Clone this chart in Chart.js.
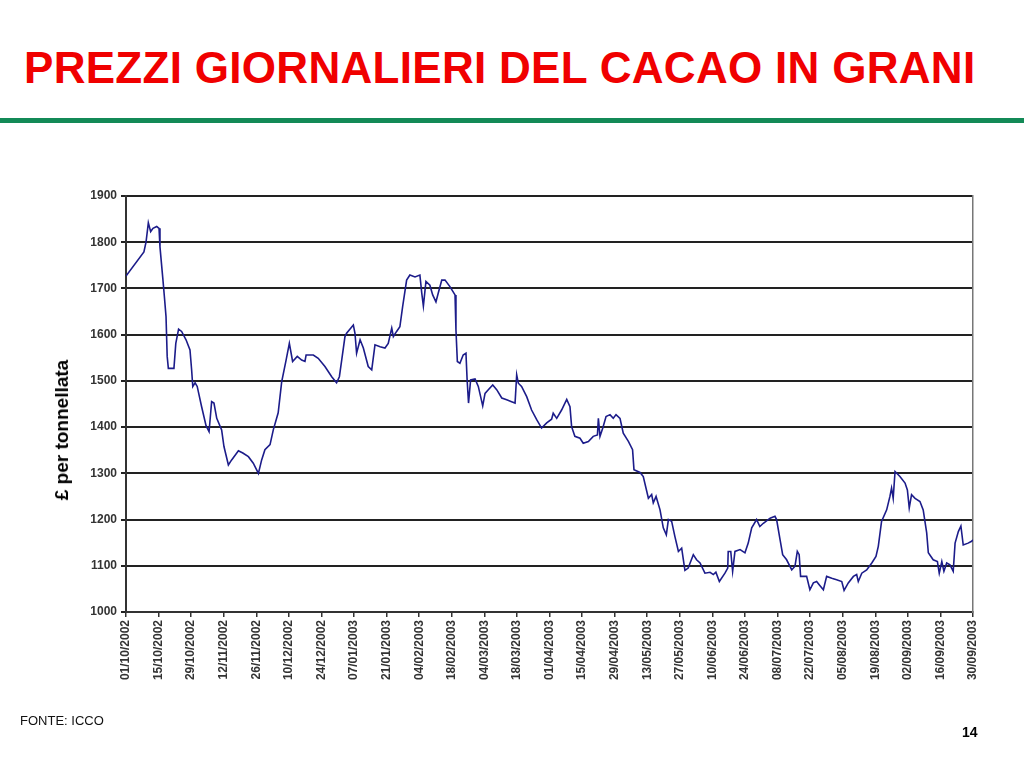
<!DOCTYPE html>
<html>
<head>
<meta charset="utf-8">
<script src="https://cdn.jsdelivr.net/npm/chart.js@4.4.1/dist/chart.umd.min.js"></script>
<style>
  html, body { margin: 0; padding: 0; background: #fff; }
  body { width: 1024px; height: 768px; position: relative; overflow: hidden;
         font-family: "Liberation Sans", Arial, sans-serif; }
  #title { position: absolute; left: 24px; top: 43px; margin: 0; letter-spacing: 0.3px;
           font-size: 44px; font-weight: bold; color: #f00000; white-space: nowrap; line-height: 50px; }
  #rule { position: absolute; left: 0; top: 118px; width: 1024px; height: 5px; background: #138a57; }
  #source { position: absolute; left: 20px; top: 713px; font-size: 13px; color: #111; }
  #page { position: absolute; left: 962px; top: 724px; font-size: 14px; font-weight: bold; color: #000; }
  #ytitle { position: absolute; left: 62px; top: 430px; transform: translate(-50%, -50%) rotate(-90deg);
            font-size: 19px; font-weight: bold; color: #000; white-space: nowrap; }
  #wrap { position: absolute; left: 0; top: 0; width: 1024px; height: 768px; }
</style>
</head>
<body>
<h1 id="title">PREZZI GIORNALIERI DEL CACAO IN GRANI</h1>
<div id="rule"></div>
<div id="wrap"><canvas id="cacao"></canvas></div>
<div id="ytitle">£ per tonnellata</div>
<div id="source">FONTE: ICCO</div>
<div id="page">14</div>

<script>
  /* ── data (day offset from 01/10/2002, £ per tonne) ─────────── */
  var tickLabels = [
    "01/10/2002", "15/10/2002", "29/10/2002", "12/11/2002", "26/11/2002",
    "10/12/2002", "24/12/2002", "07/01/2003", "21/01/2003", "04/02/2003",
    "18/02/2003", "04/03/2003", "18/03/2003", "01/04/2003", "15/04/2003",
    "29/04/2003", "13/05/2003", "27/05/2003", "10/06/2003", "24/06/2003",
    "08/07/2003", "22/07/2003", "05/08/2003", "19/08/2003", "02/09/2003",
    "16/09/2003", "30/09/2003"
  ];

  var days = [
    0, 7.7, 8.6, 9.6, 10.6, 11.6, 13.2, 14.2, 14.6, 15.8, 16.5, 17.2, 17.7, 18.2,
    20.6, 21.4, 22.6, 23.9, 25.8, 27.5, 28.2, 28.7, 29.7, 30.6, 32.5, 34.4, 35.7,
    36.8, 37.8, 39.0, 41.1, 42.1, 44.0, 45.4, 48.3, 50.2, 52.6, 54.7, 56.9, 58.3,
    59.7, 61.9, 63.3, 65.4, 66.9, 68.8, 70.2, 71.6, 73.6, 75.5, 76.9, 77.4, 80.5,
    82.6, 85.5, 88.4, 90.5, 91.7, 92.7, 94.1, 94.8, 97.7, 98.4, 99.1, 100.6, 102.0,
    104.1, 105.6, 107.0, 109.2, 111.3, 112.7, 114.2, 114.9, 116.3, 117.7, 118.9,
    120.6, 122.0, 124.2, 126.3, 127.1, 127.8, 128.9, 130.6, 131.8, 133.2, 134.2,
    135.7, 137.1, 139.2, 141.4, 141.8, 142.4, 143.5, 144.9, 146.1, 146.6, 147.2,
    148.1, 150.0, 151.4, 153.3, 154.3, 155.7, 157.6, 159.3, 161.5, 163.6, 165.7,
    167.2, 167.9, 168.6, 170.0, 172.2, 174.3, 176.5, 178.6, 180.8, 182.9, 183.6,
    185.1, 187.2, 189.4, 190.8, 191.5, 192.9, 195.1, 196.5, 198.7, 200.8, 202.6,
    203.0, 203.7, 204.9, 206.3, 208.0, 209.4, 210.6, 212.3, 213.7, 215.9, 217.7,
    218.3, 220.9, 222.3, 224.5, 225.9, 226.6, 227.8, 229.5, 230.9, 232.2, 233.1,
    234.5, 235.9, 237.4, 238.8, 240.2, 241.6, 243.8, 245.2, 246.7, 248.8, 251.0,
    252.4, 253.5, 255.0, 257.4, 258.6, 258.8, 259.9, 260.7, 261.7, 263.9, 266.0,
    267.4, 268.9, 271.0, 272.4, 273.9, 276.8, 278.9, 279.6, 281.1, 282.2, 283.9,
    286.1, 287.5, 288.5, 289.3, 289.9, 292.5, 293.9, 295.4, 296.8, 297.9, 299.7,
    301.1, 303.3, 305.4, 307.6, 308.6, 310.4, 312.6, 314.0, 314.7, 316.2, 318.3,
    320.5, 322.3, 323.3, 324.7, 326.9, 328.3, 329.0, 329.7, 330.5, 332.6, 334.8,
    335.8, 336.6, 337.6, 339.1, 341.2, 342.6, 344.1, 344.8, 346.9, 348.7, 349.5,
    350.6, 351.5, 352.7, 354.1, 355.5, 356.3, 357.7, 358.8, 359.8, 361.9, 363.4, 364
  ];

  var prices = [
    1727, 1779, 1800, 1842, 1823, 1830, 1834, 1830, 1790, 1723, 1682, 1639, 1553, 1527,
    1527, 1581, 1612, 1607, 1589, 1567, 1524, 1488, 1496, 1488, 1444, 1403, 1390,
    1455, 1452, 1419, 1394, 1358, 1318, 1329, 1349, 1344, 1336, 1322, 1300, 1329,
    1351, 1362, 1394, 1431, 1498, 1545, 1581, 1542, 1553, 1545, 1542, 1556, 1556,
    1549, 1531, 1509, 1496, 1509, 1545, 1596, 1603, 1621, 1603, 1560, 1589, 1571,
    1531, 1524, 1578, 1574, 1571, 1581, 1614, 1596, 1607, 1617, 1661,
    1718, 1729, 1725, 1729, 1690, 1662, 1715, 1707, 1686, 1671, 1690,
    1718, 1718, 1704, 1686, 1610, 1542, 1538, 1556, 1560, 1502, 1452,
    1502, 1504, 1488, 1446, 1473, 1481, 1491, 1481, 1463, 1459, 1455,
    1452, 1513, 1495, 1488, 1466, 1437, 1416, 1398, 1409, 1417, 1430,
    1419, 1437, 1460, 1444, 1401, 1380, 1376, 1365, 1369, 1380, 1383,
    1419, 1380, 1398, 1423, 1427, 1419, 1427, 1419, 1387, 1369, 1351,
    1308, 1302, 1293, 1246, 1254, 1236, 1250, 1221, 1182, 1167, 1200,
    1196, 1163, 1131, 1138, 1090, 1095, 1124, 1113, 1106, 1084, 1086,
    1081, 1086, 1066, 1084, 1095, 1131, 1131, 1088, 1131, 1135, 1128,
    1149, 1182, 1200, 1185, 1192, 1203, 1207, 1200, 1156, 1124, 1113,
    1091, 1099, 1131, 1124, 1077, 1077, 1048, 1063, 1066, 1059, 1048,
    1077, 1073, 1070, 1066, 1047, 1063, 1077, 1081, 1066, 1084, 1091,
    1106, 1120, 1142, 1196, 1221, 1250, 1268, 1246, 1304, 1293, 1279,
    1264, 1225, 1254, 1246, 1239, 1221, 1171, 1128, 1113, 1109, 1084,
    1109, 1088, 1106, 1102, 1088, 1149, 1174, 1186, 1145, 1149, 1153, 1156
  ];

  var yMin = 1000, yMax = 1900, yStep = 100;
  var xStep = 14;

  /* ── chart ──────────────────────────────────────────────────── */
  Chart.defaults.font.family = "'Liberation Sans', Arial, sans-serif";
  Chart.defaults.color = "#333";

  var points = days.map(function (d, i) { return { x: d, y: prices[i] }; });

  new Chart(document.getElementById("cacao"), {
    type: "line",
    data: {
      datasets: [{
        data: points,
        borderColor: "#1c1c8a",
        borderWidth: 1.6,
        pointRadius: 0,
        tension: 0,
        fill: false
      }]
    },
    options: {
      responsive: true,
      maintainAspectRatio: false,
      animation: false,
      events: [],
      layout: { padding: { left: 50, right: 51, top: 196, bottom: 76 } },
      plugins: { legend: { display: false }, tooltip: { enabled: false } },
      scales: {
        x: {
          type: "linear",
          min: 0,
          max: (tickLabels.length - 1) * xStep,
          afterBuildTicks: function (scale) {
            scale.ticks = tickLabels.map(function (l, i) { return { value: i * xStep }; });
          },
          afterFit: function (scale) { scale.height = 80; },
          ticks: {
            autoSkip: false,
            maxRotation: 90,
            minRotation: 90,
            padding: 3,
            color: "#333",
            font: { size: 12, weight: "bold" },
            callback: function (v, i) { return tickLabels[i]; }
          },
          grid: { drawOnChartArea: false, drawTicks: true, tickLength: 5, color: "#333", lineWidth: 1.5 },
          border: { display: true, color: "#333", width: 2 }
        },
        y: {
          min: yMin,
          max: yMax,
          afterFit: function (scale) { scale.width = 76; },
          ticks: {
            stepSize: yStep,
            padding: 4,
            color: "#333",
            font: { size: 12, weight: "bold" },
            callback: function (v) { return String(v); }
          },
          grid: { color: "#222", lineWidth: 2, tickLength: 5 },
          border: { display: true, color: "#333", width: 2 }
        },
        yRight: {
          position: "right",
          min: yMin,
          max: yMax,
          afterFit: function (scale) { scale.width = 0; },
          ticks: { display: false },
          grid: { display: false },
          border: { display: true, color: "#777", width: 1.5 }
        }
      }
    }
  });
</script>
</body>
</html>
